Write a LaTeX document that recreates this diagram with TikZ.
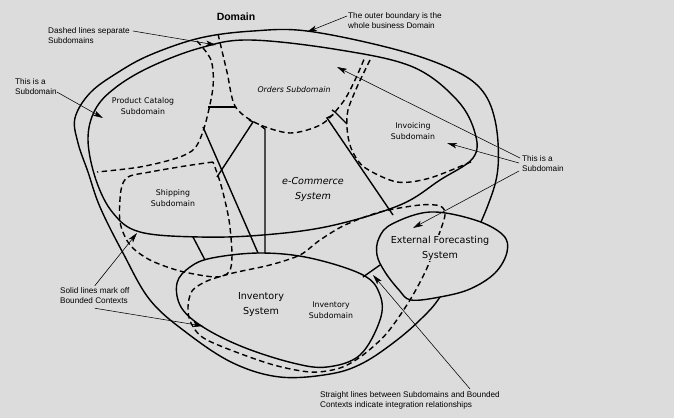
\documentclass[tikz,border=0pt]{standalone}
\usepackage{fontspec}
\setmainfont{Liberation Sans}
\newfontfamily\handfont{DejaVu Sans}
\usetikzlibrary{arrows.meta}
\definecolor{paper}{RGB}{220,220,220}
\tikzset{
  bound/.style={line width=1.4pt, smooth cycle, tension=0.6},
  sub/.style={line width=1.4pt, dash pattern=on 5.5pt off 3.5pt},
  link/.style={line width=1.4pt},
  note/.style={line width=0.55pt, ->},
  notetext/.style={font=\fontsize{8.2}{10}\selectfont, align=left, inner sep=0pt},
  sublabel/.style={font=\handfont\fontsize{7.8}{11.5}\selectfont, align=center, inner sep=1pt},
  syslabel/.style={font=\handfont\fontsize{9.6}{15}\selectfont, align=center, inner sep=1pt},
}
\begin{document}
\begin{tikzpicture}[x=1pt, y=-1pt, >={Stealth[length=10pt,width=5.5pt,inset=2.5pt]}]
\useasboundingbox[fill=paper] (0,0) rectangle (674,418);

% the whole domain
\draw[bound] plot coordinates {(253,31) (307,31) (390,48) (447,67) (480,88) (495,120) (498,167) (488,205) (465,255) (440,297) (423,317) (397,340) (363,363) (330,374) (280,377) (233,363) (187,333) (150,300) (123,253) (100,207) (88,172) (78,143) (75,118) (90,93) (117,73) (150,55) (200,38)};

% bounded contexts
\draw[bound] plot coordinates {(250,40) (340,50) (413,67) (457,100) (475,133) (473,158) (440,180) (400,205) (330,226) (263,235) (200,237) (140,232) (113,213) (96,180) (88,140) (95,110) (115,88) (150,67) (200,48)};
\draw[bound] plot coordinates {(260,253) (310,258) (363,275) (380,295) (380,320) (360,355) (327,367) (293,363) (243,347) (203,327) (181,307) (177,283) (190,267) (212,258)};
\draw[bound, fill=paper] plot coordinates {(430,212) (475,220) (503,235) (507,252) (495,273) (470,289) (440,297) (411,300) (399,290) (385,272) (377,255) (379,238) (392,224)};

% subdomains
\draw[sub] plot[smooth] coordinates {(197,41) (211,60) (213,87) (205,125) (195,148) (177,158) (140,167) (97,172)};
\draw[sub] plot[smooth] coordinates {(218,34) (227,72) (235,106) (256,123) (290,133) (322,124) (343,102) (355,80) (365,57)};
\draw[sub] plot[smooth] coordinates {(370,60) (357,87) (348,110) (347,128) (351,148) (364,167) (397,182) (430,178) (473,161)};
\draw[sub] plot[smooth] coordinates {(213,162) (185,166) (150,172) (128,177) (121,190) (120,222) (130,245) (150,260) (180,271) (215,277) (229,272) (232,255) (229,220) (221,185) (213,162)};
\draw[sub] plot[smooth cycle] coordinates {(440,206) (420,205) (380,212) (345,225) (320,240) (300,255) (270,265) (233,273) (207,281) (192,291) (188,307) (191,323) (207,340) (267,363) (310,372) (340,368) (363,355) (387,333) (410,300) (427,268) (437,240) (445,215)};

% integration relationships
\draw[link] (208,107) -- (235,107);
\draw[link] (332,110) -- (335,112) -- (347,124);
\draw[link] (203,127) -- (258,253);
\draw[link] (249,120) -- (253,122) -- (217,177);
\draw[link] (261,126) -- (265,129) -- (265,253);
\draw[link] (333,115) -- (327,118) -- (393,215);
\draw[link] (193,237) -- (205,260);
\draw[link] (363,277) -- (380,265);

% labels
\node[font=\bfseries\fontsize{10.5}{12}\selectfont] (domain) at (236,17) {Domain};
\node[syslabel, font=\handfont\itshape\fontsize{9.6}{15}\selectfont] (ecom) at (313,189) {e-Commerce\\System};
\node[syslabel] (inv) at (261,304) {Inventory\\System};
\node[syslabel, fill=paper] (ext) at (440,248) {External Forecasting\\System};
\node[sublabel] (catalog) at (143,106) {Product Catalog\\Subdomain};
\node[sublabel, font=\handfont\itshape\fontsize{7.8}{11.5}\selectfont] (orders) at (294,90) {Orders Subdomain};
\node[sublabel] (invoicing) at (413,131) {Invoicing\\Subdomain};
\node[sublabel] (shipping) at (173,198) {Shipping\\Subdomain};
\node[sublabel] (invsub) at (331,310) {Inventory\\Subdomain};

% notes
\node[notetext, anchor=west] (dashnote) at (48,36) {Dashed lines separate\\Subdomains};
\node[notetext, anchor=west] (domainnote) at (348,21) {The outer boundary is the\\whole business Domain};
\node[notetext, anchor=west] (leftnote) at (15,87) {This is a\\Subdomain};
\node[notetext, anchor=west] (rightnote) at (522,164) {This is a\\Subdomain};
\node[notetext, anchor=west] (solidnote) at (60,296) {Solid lines mark off\\Bounded Contexts};
\node[notetext, anchor=west] (straightnote) at (320,400) {Straight lines between Subdomains and Bounded\\Contexts indicate integration relationships};

\coordinate (dashtip) at (216,45);
\coordinate (domaintip) at (307,32);
\coordinate (lefttip) at (103,118);
\coordinate (ordertip) at (337,67);
\coordinate (invoicetip) at (447,143);
\coordinate (forecasttip) at (413,228);
\coordinate (ecomtip) at (137,233);
\coordinate (invtip) at (203,326);
\coordinate (linktip) at (373,275);

\draw[note] ([xshift=3pt,yshift=5pt]dashnote.east) -- (dashtip);
\draw[note] ([xshift=-1pt,yshift=5pt]domainnote.west) -- (domaintip);
\draw[note] ([yshift=-5pt]leftnote.east) -- (lefttip);
\draw[note] ([xshift=-2pt,yshift=6pt]rightnote.west) -- (ordertip);
\draw[note] ([xshift=-3pt,yshift=1pt]rightnote.west) -- (invoicetip);
\draw[note] ([xshift=-3pt,yshift=-7pt]rightnote.west) -- (forecasttip);
\draw[note] ([yshift=2pt]solidnote.north) -- (ecomtip);
\draw[note] ([yshift=-4pt]solidnote.south) -- (invtip);
\draw[note] ([xshift=60pt,yshift=2pt]straightnote.north) -- (linktip);
\end{tikzpicture}
\end{document}
